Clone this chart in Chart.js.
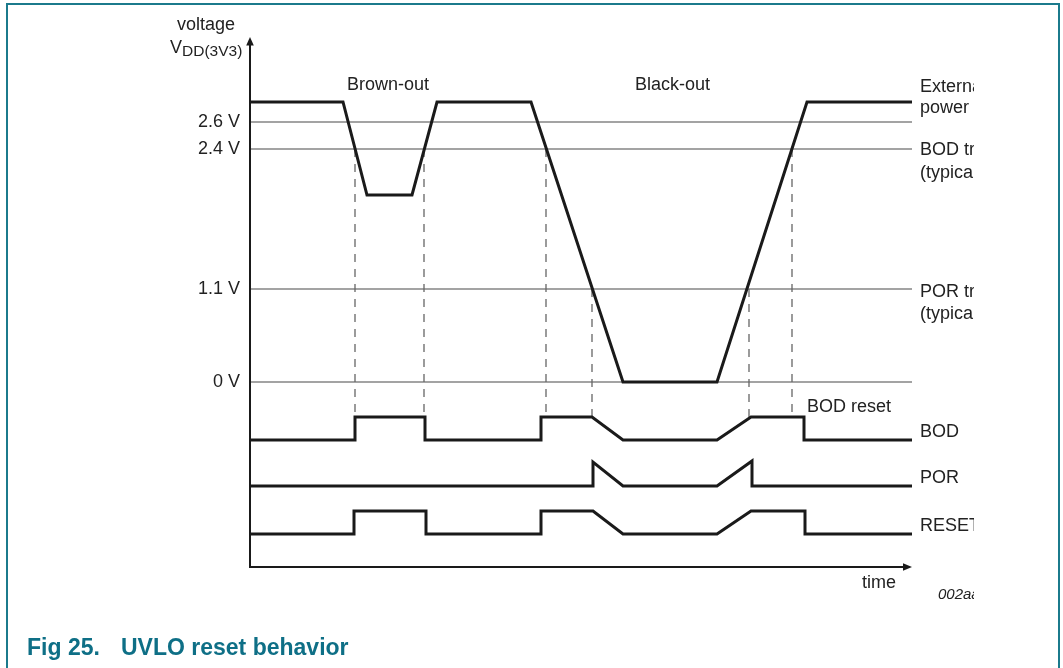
<!DOCTYPE html>
<html>
<head>
<meta charset="utf-8">
<script src="https://cdn.jsdelivr.net/npm/chart.js@4.4.1/dist/chart.umd.min.js"></script>
<style>
  html, body { margin: 0; padding: 0; background: #ffffff; }
  canvas { display: block; }
</style>
</head>
<body>
<canvas id="c" width="1063" height="668"></canvas>
<script>
// ---- diagram data (time units along x, level units along y) ----
const timeMax = 662;
const levelMax = 530;
const voltLevels = [185, 278, 418, 445];
const voltLabels = ['0 V', '1.1 V', '2.4 V', '2.6 V'];

const vddTime  = [0, 93, 117, 162, 187, 281, 373, 467, 557, 662];
const vddLevel = [465, 465, 372, 372, 465, 465, 185, 185, 465, 465];

const bodTime  = [0, 105, 105, 175, 175, 291, 291, 342, 373, 467, 501, 554, 554, 662];
const bodLevel = [127, 127, 150, 150, 127, 127, 150, 150, 127, 127, 150, 150, 127, 127];

const porTime  = [0, 343, 343, 373, 467, 502, 502, 662];
const porLevel = [81, 81, 105, 81, 81, 106, 81, 81];

const resetTime  = [0, 104, 104, 176, 176, 291, 291, 343, 373, 467, 501, 555, 555, 662];
const resetLevel = [33, 33, 56, 56, 33, 33, 56, 56, 33, 33, 56, 56, 33, 33];

const markerTime   = [105, 174, 296, 342, 499, 542];
const markerTop    = [418, 418, 418, 278, 278, 418];
const markerBottom = 150;

// ---- build datasets ----
const pts = (xs, ys) => xs.map((x, i) => ({ x: x, y: ys[i] }));
const signalStyle = {
  showLine: true, pointRadius: 0, borderColor: '#1a1a1a', borderWidth: 3,
  tension: 0, borderJoinStyle: 'miter', borderCapStyle: 'butt', fill: false
};
const datasets = [
  Object.assign({ label: 'VDD', data: pts(vddTime, vddLevel) }, signalStyle),
  Object.assign({ label: 'BOD', data: pts(bodTime, bodLevel) }, signalStyle),
  Object.assign({ label: 'POR', data: pts(porTime, porLevel) }, signalStyle),
  Object.assign({ label: 'RESET', data: pts(resetTime, resetLevel) }, signalStyle)
];
markerTime.forEach((t, i) => {
  datasets.push({
    label: 'marker' + i, data: [{ x: t, y: markerTop[i] }, { x: t, y: markerBottom }],
    showLine: true, pointRadius: 0, borderColor: '#666666', borderWidth: 1.3,
    borderDash: [8, 7], borderCapStyle: 'butt', fill: false
  });
});
voltLevels.forEach((v, i) => {
  datasets.push({
    label: voltLabels[i], data: [{ x: 0, y: v }, { x: timeMax, y: v }],
    showLine: true, pointRadius: 0, borderColor: '#858585', borderWidth: 1.5, fill: false
  });
});

// ---- decorations: axes with arrows, texts, frame ----
const decor = {
  id: 'decor',
  beforeDraw(chart) {
    const ctx = chart.ctx;
    ctx.save();
    ctx.fillStyle = '#ffffff';
    ctx.fillRect(0, 0, chart.width, chart.height);
    ctx.restore();
  },
  afterDraw(chart) {
    const ctx = chart.ctx;
    const a = chart.chartArea;
    ctx.save();
    // axes
    ctx.strokeStyle = '#1a1a1a';
    ctx.fillStyle = '#1a1a1a';
    ctx.lineWidth = 2;
    ctx.beginPath();
    ctx.moveTo(a.left, a.top + 7);
    ctx.lineTo(a.left, a.bottom);
    ctx.lineTo(a.right - 7, a.bottom);
    ctx.stroke();
    ctx.beginPath();
    ctx.moveTo(a.left, a.top);
    ctx.lineTo(a.left - 3.8, a.top + 8.5);
    ctx.lineTo(a.left + 3.8, a.top + 8.5);
    ctx.closePath();
    ctx.fill();
    ctx.beginPath();
    ctx.moveTo(a.right, a.bottom);
    ctx.lineTo(a.right - 9, a.bottom - 3.8);
    ctx.lineTo(a.right - 9, a.bottom + 3.8);
    ctx.closePath();
    ctx.fill();

    // texts
    ctx.fillStyle = '#222222';
    ctx.textBaseline = 'alphabetic';
    const f18 = '18px "Liberation Sans", Arial, sans-serif';
    ctx.font = f18;
    ctx.textAlign = 'center';
    ctx.fillText('voltage', 206, 30);
    ctx.textAlign = 'left';
    ctx.fillText('V', 170, 53);
    ctx.font = '15.5px "Liberation Sans", Arial, sans-serif';
    ctx.fillText('DD(3V3)', 182, 56);
    ctx.font = f18;
    ctx.fillText('Brown-out', 347, 90);
    ctx.fillText('Black-out', 635, 90);
    ctx.fillText('BOD reset', 807, 412);
    ctx.fillText('time', 862, 588);

    // right-side labels, clipped like the original
    ctx.save();
    ctx.beginPath();
    ctx.rect(0, 0, 974, chart.height);
    ctx.clip();
    const rx = 920;
    [['External', 92], ['power', 113], ['BOD trip level', 155], ['(typical)', 178],
     ['POR trip level', 297], ['(typical)', 319], ['BOD', 437], ['POR', 483], ['RESET', 531]]
      .forEach(([t, y]) => ctx.fillText(t, rx, y));
    ctx.font = 'italic 15px "Liberation Sans", Arial, sans-serif';
    ctx.fillText('002aab123', 938, 599);
    ctx.restore();

    // caption
    ctx.fillStyle = '#0e6f86';
    ctx.font = 'bold 23px "Liberation Sans", Arial, sans-serif';
    ctx.fillText('Fig 25.', 27, 655);
    ctx.fillText('UVLO reset behavior', 121, 655);

    // frame
    ctx.strokeStyle = '#1b7a8c';
    ctx.lineWidth = 2;
    ctx.beginPath();
    ctx.moveTo(7, 700);
    ctx.lineTo(7, 4);
    ctx.lineTo(1059, 4);
    ctx.lineTo(1059, 700);
    ctx.stroke();
    ctx.restore();
  }
};

new Chart(document.getElementById('c'), {
  type: 'scatter',
  data: { datasets: datasets },
  options: {
    responsive: false,
    animation: false,
    devicePixelRatio: 1,
    layout: { padding: { left: 0, top: 37, right: 151, bottom: 101 } },
    plugins: { legend: { display: false }, tooltip: { enabled: false } },
    elements: { line: { tension: 0 } },
    scales: {
      x: { type: 'linear', min: 0, max: timeMax, display: false },
      y: {
        type: 'linear', min: 0, max: levelMax, display: true,
        grid: { display: false, drawTicks: false },
        border: { display: false },
        afterFit(scale) { scale.width = 250; },
        afterBuildTicks(scale) { scale.ticks = voltLevels.map(v => ({ value: v })); },
        ticks: {
          autoSkip: false, padding: 10, color: '#222222',
          font: { family: '"Liberation Sans", Arial, sans-serif', size: 18 },
          callback(value) {
            const i = voltLevels.indexOf(value);
            return i >= 0 ? voltLabels[i] : '';
          }
        }
      }
    }
  },
  plugins: [decor]
});
</script>
</body>
</html>
